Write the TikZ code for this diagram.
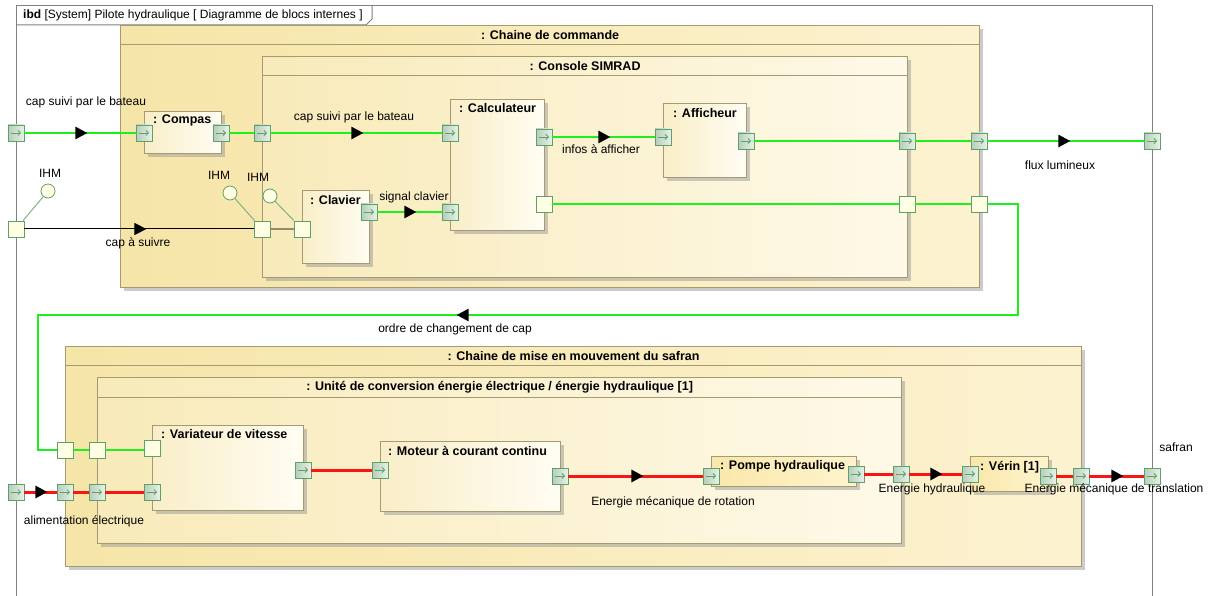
\documentclass[tikz,border=0pt]{standalone}
\usepackage{fontspec}
\setmainfont{Liberation Sans}
\usetikzlibrary{arrows.meta,decorations.markings,shadows}

\definecolor{bord}{RGB}{165,155,115}
\definecolor{fondA}{RGB}{246,229,168}
\definecolor{fondB}{RGB}{252,242,208}
\definecolor{consA}{RGB}{248,234,185}
\definecolor{consB}{RGB}{254,249,232}
\definecolor{partA}{RGB}{249,238,200}
\definecolor{partB}{RGB}{255,253,243}
\definecolor{pompeA}{RGB}{249,232,170}
\definecolor{pompeB}{RGB}{254,243,205}
\definecolor{portvert}{RGB}{95,160,105}
\definecolor{portA}{RGB}{180,205,185}
\definecolor{portB}{RGB}{232,242,232}
\definecolor{portjaune}{RGB}{255,255,228}
\definecolor{vert}{RGB}{30,240,30}
\definecolor{rouge}{RGB}{250,20,20}
\definecolor{cadre}{RGB}{128,128,128}

\tikzset{
  bloc/.style={draw=bord, line width=1.2pt, anchor=north west, inner sep=0,
    drop shadow={shadow xshift=3pt, shadow yshift=-3pt, fill=black!40, opacity=0.5}},
  chaine/.style={bloc, left color=fondA, right color=fondB},
  sousbloc/.style={bloc, left color=consA, right color=consB},
  partie/.style={bloc, left color=partA, right color=partB},
  partjaune/.style={bloc, left color=pompeA, right color=pompeB},
  titre/.style={font=\bfseries\fontsize{12.5}{14}\selectfont, inner sep=0},
  lbl/.style={font=\fontsize{12}{14}\selectfont, inner sep=0},
  pflux/.style={draw=portvert, line width=0.8pt, minimum size=16pt, inner sep=0,
    left color=portA, right color=portB,
    path picture={\draw[portvert, line width=0.8pt, -{Straight Barb[length=2.5pt]}]
      ([xshift=-5pt]path picture bounding box.center) -- ([xshift=5pt]path picture bounding box.center);}},
  psimple/.style={draw=portvert, line width=0.8pt, minimum size=16pt, inner sep=0, fill=portjaune},
  lolli/.style={circle, draw=portvert, line width=0.8pt, fill=portjaune, minimum size=14pt, inner sep=0},
  tige/.style={draw=portvert!80, line width=1pt},
  lvert/.style={vert, line width=2.5pt},
  lrouge/.style={rouge, line width=3pt},
  fleche/.style={postaction={decorate, decoration={markings,
    mark=at position #1 with {\arrow{Triangle[length=12pt, width=12pt, color=black]}}}}}
}

\begin{document}
\begin{tikzpicture}[x=1pt, y=-1pt]
    \useasboundingbox[fill=white] (0,0) rectangle (1208,596);
    \draw[cadre, line width=1pt] (16,610) -- (16,6) -- (1152,6) -- (1152,610);
    \draw[cadre, line width=1pt] (16,25) -- (366,25) -- (372,19) -- (372,6);
    \node[lbl, anchor=west] (entete) at (23,15) {\textbf{ibd} [System] Pilote hydraulique [ Diagramme de blocs internes ]};

    \node[chaine, minimum width=859, minimum height=262] (cmd) at (120,25) {};
    \draw[bord, line width=1pt] ([yshift=-20pt]cmd.north west) -- ([yshift=-20pt]cmd.north east);
    \node[titre] (tcmd) at ([yshift=-10pt]cmd.north) {: Chaine de commande};
    \node[sousbloc, minimum width=645, minimum height=221] (console) at (262,56) {};
    \draw[bord, line width=1pt] ([yshift=-20pt]console.north west) -- ([yshift=-20pt]console.north east);
    \node[titre] (tconsole) at ([yshift=-10pt]console.north) {: Console SIMRAD};

    \node[partie, minimum width=77, minimum height=42] (compas) at (144,111) {};
    \node[titre, anchor=west] (tcompas) at ([shift={(9,9)}]compas.north west) {: Compas};
    \node[partie, minimum width=94, minimum height=131] (calc) at (450,99) {};
    \node[titre, anchor=west] (tcalc) at ([shift={(9,9)}]calc.north west) {: Calculateur};
    \node[partie, minimum width=83, minimum height=74] (aff) at (663,103) {};
    \node[titre, anchor=west] (taff) at ([shift={(10,10)}]aff.north west) {: Afficheur};
    \node[partie, minimum width=67, minimum height=73] (clavier) at (302,190) {};
    \node[titre, anchor=west] (tclavier) at ([shift={(8,10)}]clavier.north west) {: Clavier};

    \node[chaine, minimum width=1016, minimum height=220] (mvt) at (65,346) {};
    \draw[bord, line width=1pt] ([yshift=-19pt]mvt.north west) -- ([yshift=-19pt]mvt.north east);
    \node[titre] (tmvt) at ([yshift=-10pt]mvt.north) {: Chaine de mise en mouvement du safran};
    \node[sousbloc, minimum width=804, minimum height=166] (unite) at (97,377) {};
    \draw[bord, line width=1pt] ([yshift=-20pt]unite.north west) -- ([yshift=-20pt]unite.north east);
    \node[titre] (tunite) at ([yshift=-10pt]unite.north) {: Unité de conversion énergie électrique / énergie hydraulique [1]};

    \node[partie, minimum width=151, minimum height=85] (var) at (152,425) {};
    \node[titre, anchor=west] (tvar) at ([shift={(9,9)}]var.north west) {: Variateur de vitesse};
    \node[partie, minimum width=180, minimum height=70] (moteur) at (380,441) {};
    \node[titre, anchor=west] (tmoteur) at ([shift={(8,10)}]moteur.north west) {: Moteur à courant continu};
    \node[partjaune, minimum width=145, minimum height=30] (pompe) at (711,456) {};
    \node[titre, anchor=west] (tpompe) at ([shift={(9,10)}]pompe.north west) {: Pompe hydraulique};
    \node[partjaune, minimum width=78, minimum height=35] (verin) at (970,456) {};
    \node[titre, anchor=west] (tverin) at ([shift={(10,11)}]verin.north west) {: Vérin [1]};

    \node[pflux] (pcap) at (16,133) {};
    \node[pflux] (compin) at (144,133) {};
    \node[pflux] (compout) at (221,133) {};
    \node[pflux] (consin) at (262,133) {};
    \node[pflux] (calcin) at (450,133) {};
    \node[pflux] (calcout) at (544,137) {};
    \node[pflux] (affin) at (663,137) {};
    \node[pflux] (affout) at (746,141) {};
    \node[pflux] (consout) at (907,141) {};
    \node[pflux] (cmdout) at (979,141) {};
    \node[pflux] (plum) at (1152,141) {};
    \node[psimple] (calcordre) at (544,204) {};
    \node[psimple] (consordre) at (907,204) {};
    \node[psimple] (cmdordre) at (979,204) {};
    \node[pflux] (clavout) at (369,212) {};
    \node[pflux] (calcsig) at (450,212) {};
    \node[psimple] (pihm) at (16,229) {};
    \node[psimple] (consihm) at (262,229) {};
    \node[psimple] (clavihm) at (302,229) {};

    \node[lolli] (lihm) at (48,191) {};
    \node[lolli] (lconsihm) at (230,193) {};
    \node[lolli] (lclavihm) at (270,196) {};
    \draw[tige] (pihm) -- (lihm);
    \draw[tige] (consihm) -- (lconsihm);
    \draw[tige] (clavihm) -- (lclavihm);
    \node[lbl] (tihm) at (50,173) {IHM};
    \node[lbl] (tconsihm) at (219,175) {IHM};
    \node[lbl] (tclavihm) at (258,177) {IHM};

    \node[pflux] (palim) at (16,492) {};
    \node[pflux] (mvtin) at (65,492) {};
    \node[pflux] (uniin) at (97,492) {};
    \node[pflux] (varin) at (152,492) {};
    \node[psimple] (mvtordre) at (65,450) {};
    \node[psimple] (uniordre) at (97,450) {};
    \node[psimple] (varordre) at (152,448) {};
    \node[pflux] (varout) at (303,470) {};
    \node[pflux] (motin) at (380,470) {};
    \node[pflux] (motout) at (560,476) {};
    \node[pflux] (pompin) at (711,476) {};
    \node[pflux] (pompout) at (856,474) {};
    \node[pflux] (uniout) at (901,474) {};
    \node[pflux] (verinin) at (970,474) {};
    \node[pflux] (verout) at (1048,476) {};
    \node[pflux] (mvtout) at (1081,476) {};
    \node[pflux] (psafran) at (1152,476) {};

    \coordinate (o1) at (1018,204);
    \coordinate (o2) at (1018,315);
    \coordinate (o3) at (38,315);
    \coordinate (o4) at (38,450);

    \draw[lvert, fleche=63pt] (pcap) -- (compin);
    \draw[lvert] (compout) -- (consin);
    \draw[lvert, fleche=93pt] (consin) -- (calcin);
    \draw[lvert, fleche=58pt] (calcout) -- (affin);
    \draw[lvert] (affout) -- (consout);
    \draw[lvert] (consout) -- (cmdout);
    \draw[lvert, fleche=83pt] (cmdout) -- (plum);
    \draw[lvert, fleche=39pt] (clavout) -- (calcsig);
    \draw[lvert] (calcordre) -- (consordre);
    \draw[lvert] (consordre) -- (cmdordre);
    \draw[lvert, fleche=703pt] (cmdordre) -- (o1) -- (o2) -- (o3) -- (o4) -- (mvtordre);
    \draw[lvert] (mvtordre) -- (uniordre);
    \draw[lvert] (uniordre) -- (varordre.south west |- uniordre);
    \draw[black, line width=1pt, fleche=122pt] (pihm) -- (consihm);
    \draw[bord!90!black, line width=1.5pt] (consihm) -- (clavihm);

    \draw[lrouge, fleche=23pt] (palim) -- (mvtin);
    \draw[lrouge] (mvtin) -- (uniin);
    \draw[lrouge] (uniin) -- (varin);
    \draw[lrouge] (varout) -- (motin);
    \draw[lrouge, fleche=75pt] (motout) -- (pompin);
    \draw[lrouge] (pompout) -- (uniout);
    \draw[lrouge, fleche=33pt] (uniout) -- (verinin);
    \draw[lrouge] (verout) -- (mvtout);
    \draw[lrouge, fleche=34pt] (mvtout) -- (psafran);

    \node[lbl] (lcap) at (86,102) {cap suivi par le bateau};
    \node[lbl] (lcapint) at (354,117) {cap suivi par le bateau};
    \node[lbl] (linfos) at (601,149) {infos à afficher};
    \node[lbl] (lflux) at (1060,165) {flux lumineux};
    \node[lbl] (lsignal) at (414,197) {signal clavier};
    \node[lbl] (lcapsuivre) at (138,243) {cap à suivre};
    \node[lbl] (lordre) at (455,329) {ordre de changement de cap};
    \node[lbl] (lalim) at (84,521) {alimentation électrique};
    \node[lbl] (lrot) at (673,502) {Energie mécanique de rotation};
    \node[lbl] (lhyd) at (932,489) {Energie hydraulique};
    \node[lbl] (ltrans) at (1114,489) {Energie mécanique de translation};
    \node[lbl] (lsafran) at (1176,447) {safran};
\end{tikzpicture}
\end{document}
